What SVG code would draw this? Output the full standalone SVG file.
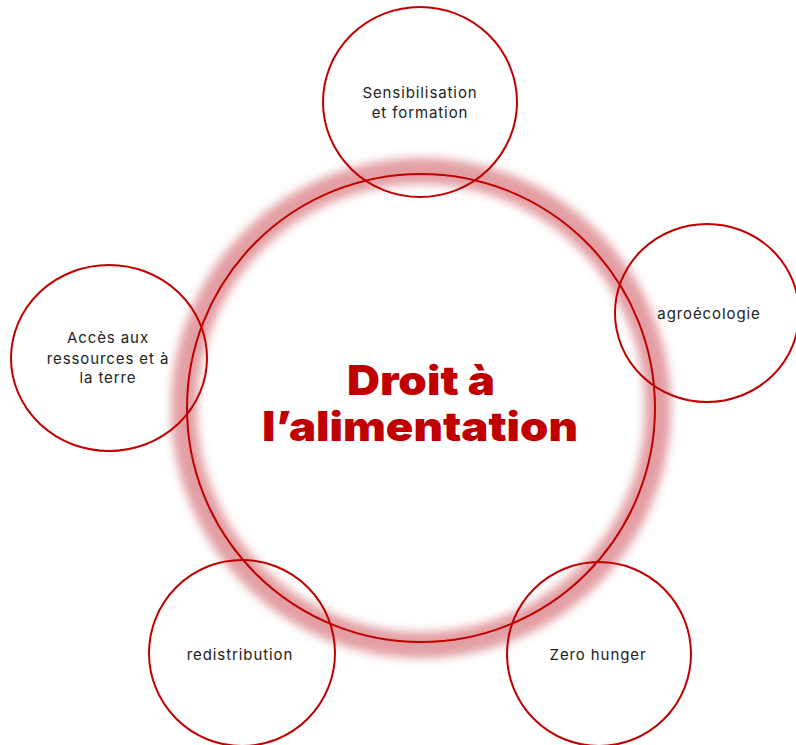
<svg xmlns="http://www.w3.org/2000/svg" width="796" height="745" viewBox="0 0 796 745">
<style>
.c{fill:none;stroke:#c00000;stroke-width:2}
.t{font-family:Inter,"Noto Sans","Liberation Sans",sans-serif;font-size:15px;fill:#222;text-anchor:middle;letter-spacing:0.9px}
.title{font-family:Inter,"Liberation Sans",sans-serif;font-weight:900;font-size:41px;fill:#c00000;text-anchor:middle}
</style>
<defs>
<filter id="glow" x="-20%" y="-20%" width="140%" height="140%">
<feGaussianBlur stdDeviation="5"/>
</filter>
</defs>
<rect width="796" height="745" fill="#fff"/>
<g id="center">
<circle cx="421" cy="408" r="237" fill="none" stroke="#d46a72" stroke-opacity="0.65" stroke-width="26" filter="url(#glow)"/>
<circle class="c" cx="421" cy="408" r="234"/>
<text class="title" x="421" y="395" textLength="148" lengthAdjust="spacingAndGlyphs">Droit à</text>
<text class="title" x="420" y="441" textLength="316" lengthAdjust="spacingAndGlyphs">l’alimentation</text>
</g>
<g id="sensibilisation">
<ellipse class="c" cx="420" cy="102" rx="97" ry="95"/>
<text class="t" x="420" y="98">Sensibilisation</text>
<text class="t" x="420" y="118">et formation</text>
</g>
<g id="agroecologie">
<ellipse class="c" cx="707" cy="313" rx="92" ry="89"/>
<text class="t" x="709" y="319">agroécologie</text>
</g>
<g id="acces">
<ellipse class="c" cx="109" cy="358" rx="98" ry="93"/>
<text class="t" x="108" y="343">Accès aux</text>
<text class="t" x="108" y="364">ressources et à</text>
<text class="t" x="108" y="383">la terre</text>
</g>
<g id="redistribution">
<ellipse class="c" cx="242" cy="653" rx="93" ry="93"/>
<text class="t" x="240" y="660">redistribution</text>
</g>
<g id="zerohunger">
<ellipse class="c" cx="599" cy="654" rx="92" ry="92"/>
<text class="t" x="598" y="660">Zero hunger</text>
</g>
<g id="connectors"></g>
</svg>
